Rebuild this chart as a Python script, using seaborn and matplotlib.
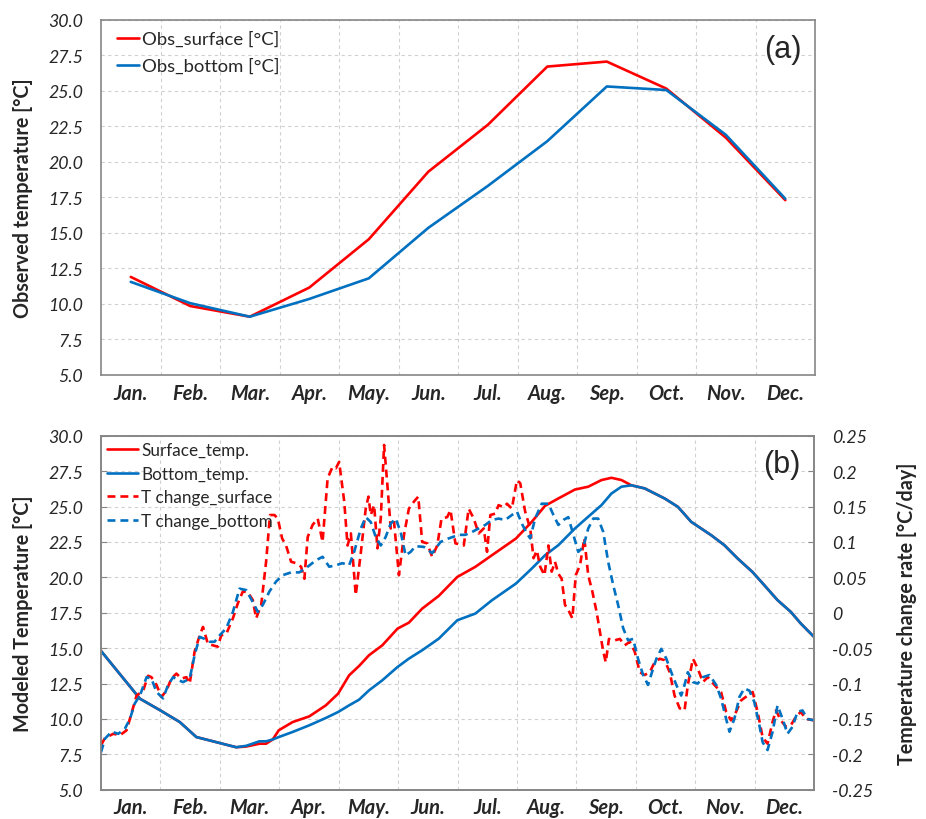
import matplotlib
matplotlib.use("Agg")
import matplotlib.pyplot as plt
import seaborn as sns
import numpy as np
from matplotlib.ticker import FixedLocator

# ---------------- data ----------------
months = ["Jan.", "Feb.", "Mar.", "Apr.", "May.", "Jun.",
          "Jul.", "Aug.", "Sep.", "Oct.", "Nov.", "Dec."]

# (a) monthly observed temperature [°C]
obs_surface = [11.9, 9.85, 9.1, 11.15, 14.55, 19.3, 22.6, 26.7, 27.05, 25.15, 21.7, 17.3]
obs_bottom = [11.55, 10.05, 9.1, 10.35, 11.8, 15.35, 18.3, 21.45, 25.3, 25.05, 21.9, 17.4]

# (b) modelled temperature [°C] against day of year
temp_day = [0, 19.9, 30.4, 40.3, 48.8, 60.7, 69.2, 74.3, 81.1, 84.5, 87.9, 91.0, 98.1,
            106.6, 115.1, 121.4, 127.0, 132.1, 137.2, 144.0, 151.8, 157.6, 164.4, 172.9,
            182.4, 191.6, 200.1, 212.4, 220.5, 227.3, 234.1, 242.6, 249.4, 256.2, 261.3,
            266.4, 271.5, 278.3, 288.5, 295.3, 302.1, 312.3, 319.1, 325.9, 333.4, 339.5,
            346.3, 353.1, 358.2, 365]
surface_temp = [14.8, 11.43, 10.6, 9.78, 8.72, 8.3, 8.0, 8.05, 8.25, 8.25, 8.55, 9.2, 9.78,
                10.18, 10.96, 11.79, 13.08, 13.74, 14.5, 15.2, 16.38, 16.8, 17.79, 18.69,
                20.03, 20.74, 21.56, 22.74, 23.92, 25.05, 25.57, 26.2, 26.4, 26.87, 27.03,
                26.87, 26.5, 26.28, 25.57, 24.98, 23.92, 22.98, 22.27, 21.33, 20.39, 19.45,
                18.39, 17.56, 16.74, 15.79]
bottom_temp = [14.8, 11.43, 10.6, 9.78, 8.72, 8.3, 8.0, 8.1, 8.42, 8.42, 8.55, 8.72, 9.08,
               9.55, 10.07, 10.49, 10.96, 11.36, 12.02, 12.73, 13.67, 14.26, 14.85, 15.67,
               16.97, 17.44, 18.38, 19.56, 20.62, 21.56, 22.27, 23.45, 24.28, 25.1, 25.92,
               26.4, 26.5, 26.28, 25.57, 24.98, 23.92, 22.98, 22.27, 21.33, 20.39, 19.45,
               18.39, 17.56, 16.74, 15.79]

# (b) temperature change rate [°C/day], surface layer
rate_surface_day = [0, 2.0, 6.3, 9.7, 13.1, 18.2, 21.6, 24.1, 25.8, 28.4,
                    30.9, 33.5, 36.0, 38.6, 41.1, 43.7, 45.4, 47.9, 50.5, 52.2,
                    54.7, 57.3, 59.8, 61.5, 64.1, 67.5, 70.0, 72.6, 75.1, 77.7,
                    79.4, 82.0, 84.5, 86.5, 88.8, 90.5, 92.7, 94.7, 97.3, 99.8,
                    102.4, 104.1, 105.8, 108.3, 110.9, 112.0, 113.4, 116.0, 118.5, 120.2,
                    121.9, 124.5, 126.2, 127.9, 130.4, 133.0, 135.5, 136.9, 138.1, 139.8,
                    141.5, 143.2, 144.9, 146.6, 148.3, 150.0, 152.5, 155.1, 157.6, 160.2,
                    162.4, 164.4, 167.0, 169.5, 172.1, 174.3, 177.2, 178.9, 181.4,
                    185.7, 188.2, 190.8, 193.3, 195.9, 197.6, 199.3, 201.8, 203.5, 206.1,
                    207.8, 210.3, 212.9, 214.6, 217.1, 219.7, 221.4, 223.1, 224.8, 227.0,
                    229.0, 230.7, 232.4, 234.1, 235.8, 237.5, 239.2, 241.3, 243.0, 245.2,
                    247.4, 249.4, 251.5, 253.7, 255.4, 257.1, 258.4, 260.0, 263.0, 265.6,
                    268.1, 270.7, 273.2, 275.8, 278.3, 280.9, 283.4, 286.0, 288.5, 291.1,
                    293.6, 296.2, 298.7, 300.4, 303.0, 305.5, 308.1, 310.6, 314.0, 317.4,
                    320.0, 322.5, 325.1, 327.6, 331.0, 333.6, 336.1, 338.7, 341.2, 343.8,
                    345.5, 348.0, 350.6, 353.1, 355.7, 358.2, 360.8, 365]
rate_surface = [-0.187, -0.177, -0.171, -0.173, -0.166, -0.117, -0.11, -0.089, -0.091, -0.102,
                -0.119, -0.11, -0.093, -0.086, -0.093, -0.091, -0.1, -0.055, -0.032, -0.02,
                -0.044, -0.046, -0.048, -0.032, -0.03, -0.008, 0.013, 0.03, 0.029, 0.018,
                -0.008, 0.011, 0.072, 0.138, 0.138, 0.133, 0.105, 0.095, 0.072, 0.07,
                0.065, 0.048, 0.107, 0.124, 0.133, 0.119, 0.1, 0.19, 0.206, 0.204,
                0.213, 0.157, 0.095, 0.112, 0.025, 0.085, 0.147, 0.164, 0.138, 0.152,
                0.091, 0.133, 0.237, 0.18, 0.119, 0.128, 0.053, 0.11, 0.147, 0.157,
                0.164, 0.1, 0.098, 0.079, 0.095, 0.133, 0.135, 0.145, 0.098,
                0.095, 0.147, 0.133, 0.112, 0.119, 0.086, 0.138, 0.14, 0.152, 0.149,
                0.154, 0.147, 0.187, 0.183, 0.143, 0.119, 0.077, 0.088, 0.065, 0.053,
                0.095, 0.058, 0.072, 0.055, 0.048, 0.011, 0.004, -0.008, 0.053, 0.067,
                0.105, 0.053, 0.03, 0.001, -0.027, -0.055, -0.07, -0.037, -0.039, -0.037,
                -0.046, -0.041, -0.055, -0.084, -0.088, -0.084, -0.07, -0.065, -0.067, -0.084,
                -0.117, -0.135, -0.138, -0.102, -0.065, -0.079, -0.098, -0.091, -0.102, -0.112,
                -0.14, -0.152, -0.14, -0.124, -0.117, -0.112, -0.14, -0.176, -0.185, -0.154,
                -0.138, -0.152, -0.161, -0.159, -0.147, -0.14, -0.15, -0.152]

# (b) temperature change rate [°C/day], bottom layer
rate_bottom_day = [0, 2.0, 5.4, 8.8, 12.2, 14.8, 17.3, 19.9, 23.3, 25.8,
                   28.4, 31.8, 34.3, 36.9, 39.4, 42.0, 45.4, 47.9, 50.5, 53.0,
                   55.6, 58.1, 60.7, 64.1, 67.5, 70.9, 74.3, 77.7, 80.3, 82.8,
                   86.2, 89.6, 93.0, 97.3, 101.5, 105.8, 110.0, 113.4, 116.8, 120.2,
                   123.6, 127.0, 129.6, 133.0, 135.5, 138.1, 140.6, 143.2, 145.7, 148.3,
                   150.8, 153.4, 155.9, 158.5, 161.0, 165.3, 169.5, 173.8, 178.0,
                   183.1, 186.5, 189.9, 193.3, 196.7, 200.1, 203.5, 206.9, 210.3, 212.9,
                   215.4, 218.0, 219.7, 222.2, 225.6, 229.0, 231.6, 234.1, 236.7, 239.2,
                   241.8, 244.3, 246.9, 249.4, 252.0, 254.5, 257.1, 259.6, 262.2, 264.7,
                   267.3, 269.8, 272.4, 274.9, 277.5, 280.0, 282.6, 284.3, 286.8, 289.4,
                   291.9, 294.5, 297.0, 298.7, 300.4, 303.0, 305.5, 308.1, 311.5, 314.9,
                   317.4, 320.0, 321.7, 324.2, 326.8, 329.3, 331.9, 334.4, 337.0, 338.7,
                   341.2, 343.8, 346.3, 348.9, 351.4, 354.0, 356.5, 359.1, 361.6, 365]
rate_bottom = [-0.197, -0.178, -0.168, -0.171, -0.164, -0.15, -0.128, -0.117, -0.091, -0.093,
               -0.112, -0.121, -0.102, -0.091, -0.095, -0.098, -0.093, -0.06, -0.034, -0.037,
               -0.041, -0.041, -0.032, -0.022, 0.001, 0.034, 0.032, 0.015, 0.001, 0.011,
               0.03, 0.044, 0.053, 0.057, 0.057, 0.065, 0.074, 0.079, 0.065, 0.067,
               0.07, 0.067, 0.086, 0.119, 0.135, 0.128, 0.107, 0.095, 0.107, 0.126,
               0.133, 0.114, 0.081, 0.086, 0.094, 0.093, 0.084, 0.1, 0.105,
               0.11, 0.11, 0.114, 0.119, 0.124, 0.131, 0.133, 0.131, 0.138, 0.143,
               0.126, 0.112, 0.105, 0.133, 0.154, 0.154, 0.138, 0.124, 0.131, 0.135,
               0.11, 0.086, 0.093, 0.119, 0.133, 0.133, 0.114, 0.072, 0.039, 0.011,
               -0.022, -0.039, -0.037, -0.065, -0.088, -0.102, -0.079, -0.065, -0.051, -0.065,
               -0.084, -0.102, -0.117, -0.102, -0.084, -0.098, -0.1, -0.091, -0.088, -0.102,
               -0.121, -0.15, -0.168, -0.15, -0.119, -0.107, -0.11, -0.126, -0.159, -0.183,
               -0.194, -0.168, -0.131, -0.15, -0.171, -0.161, -0.14, -0.138, -0.15, -0.152]

temp_ticks = [5.0, 7.5, 10.0, 12.5, 15.0, 17.5, 20.0, 22.5, 25.0, 27.5, 30.0]
rate_ticks = [-0.25, -0.2, -0.15, -0.1, -0.05, 0, 0.05, 0.1, 0.15, 0.2, 0.25]
rate_tick_labels = ["-0.25", "-0.2", "-0.15", "-0.1", "-0.05", "0",
                    "0.05", "0.1", "0.15", "0.2", "0.25"]

# ---------------- style ----------------
sns.set_style("white")
plt.rcParams["font.family"] = ["Lato", "DejaVu Sans"]

RED = "#FF0000"
BLUE = "#0070C0"
SPINE = "#868686"
GRID = dict(color="#D0D0D0", linestyle=(0, (3, 3)), linewidth=0.8)
LW = 1.9
DASH = (0, (3.0, 1.9))
TICK_FONT = dict(fontsize=12.8, style="italic")
MONTH_FONT = dict(fontsize=14.5, style="italic", weight="bold")
LABEL_FONT = dict(fontsize=14.2, weight="bold")

fig = plt.figure(figsize=(9.26, 8.2), dpi=100)
ax1 = fig.add_axes([0.1091, 0.5415, 0.7711, 0.4333])
ax2 = fig.add_axes([0.1091, 0.0357, 0.7700, 0.4317])


def frame(ax):
    for s in ax.spines.values():
        s.set_color(SPINE)
        s.set_linewidth(1.2)
        s.set_visible(True)


# ---------------- (a) observed ----------------
x_cat = list(range(len(months)))
sns.lineplot(x=x_cat, y=obs_surface, ax=ax1, color=RED, linewidth=LW,
             label="Obs_surface [\u00b0C]")
sns.lineplot(x=x_cat, y=obs_bottom, ax=ax1, color=BLUE, linewidth=LW,
             label="Obs_bottom [\u00b0C]")
ax1.set_xlim(-0.5, 11.5)
ax1.set_ylim(5, 30)
ax1.xaxis.set_major_locator(FixedLocator(x_cat))
ax1.set_xticklabels(months, **MONTH_FONT)
ax1.xaxis.set_minor_locator(FixedLocator([i + 0.5 for i in range(11)]))
ax1.set_yticks(temp_ticks)
ax1.set_yticklabels([f"{v:.1f}" for v in temp_ticks], **TICK_FONT)
ax1.tick_params(axis="x", which="both", length=0, pad=6)
ax1.tick_params(axis="y", length=0, pad=13)
ax1.grid(False)
ax1.grid(True, which="minor", axis="x", **GRID)
ax1.grid(True, which="major", axis="y", **GRID)
ax1.set_ylabel("Observed temperature [\u00b0C]", **LABEL_FONT)
ax1.yaxis.set_label_coords(-0.095, 0.5)
frame(ax1)
ax1.legend(loc="upper left", bbox_to_anchor=(0.022, 0.968), frameon=False,
           fontsize=13.3, handlelength=1.2, handletextpad=0.15,
           labelspacing=0.58, borderpad=0, borderaxespad=0)
ax1.text(0.955, 0.918, "(a)", transform=ax1.transAxes, ha="center", va="center",
         fontsize=22, family="Liberation Sans")

# ---------------- (b) modelled ----------------
axr = ax2.twinx()
sns.lineplot(x=temp_day, y=surface_temp, ax=ax2, color=RED, linewidth=LW,
             label="Surface_temp.")
sns.lineplot(x=temp_day, y=bottom_temp, ax=ax2, color=BLUE, linewidth=LW,
             label="Bottom_temp.")
sns.lineplot(x=rate_surface_day, y=rate_surface, ax=axr, color=RED, linewidth=LW,
             linestyle=DASH, label="T change_surface")
sns.lineplot(x=rate_bottom_day, y=rate_bottom, ax=axr, color=BLUE, linewidth=LW,
             linestyle=DASH, label="T change_bottom")
for a in (ax2, axr):
    if a.get_legend() is not None:
        a.get_legend().remove()

month_len = 365 / 12
ax2.set_xlim(0, 365)
ax2.set_ylim(5, 30)
axr.set_ylim(-0.25, 0.25)
ax2.xaxis.set_major_locator(FixedLocator([(i + 0.5) * month_len for i in range(12)]))
ax2.set_xticklabels(months, **MONTH_FONT)
ax2.xaxis.set_minor_locator(FixedLocator([i * month_len for i in range(1, 12)]))
ax2.set_yticks(temp_ticks)
ax2.set_yticklabels([f"{v:.1f}" for v in temp_ticks], **TICK_FONT)
axr.set_yticks(rate_ticks)
axr.set_yticklabels(rate_tick_labels, **TICK_FONT)
ax2.tick_params(axis="x", which="both", length=0, pad=5)
ax2.tick_params(axis="y", direction="in", length=4, color=SPINE, pad=13)
axr.tick_params(axis="y", direction="in", length=4, color=SPINE, pad=13)
ax2.grid(False)
axr.grid(False)
ax2.grid(True, which="minor", axis="x", **GRID)
ax2.grid(True, which="major", axis="y", **GRID)
ax2.set_ylabel("Modeled Temperature [\u00b0C]", **LABEL_FONT)
ax2.yaxis.set_label_coords(-0.095, 0.5)
axr.set_ylabel("Temperature change rate [\u00b0C/day]", **LABEL_FONT)
axr.yaxis.set_label_coords(1.117, 0.5)
frame(ax2)
frame(axr)

h1, l1 = ax2.get_legend_handles_labels()
h2, l2 = axr.get_legend_handles_labels()
axr.legend(h1 + h2, l1 + l2, loc="upper left", bbox_to_anchor=(0.008, 0.982),
           frameon=False, fontsize=12.3, handlelength=1.85, handletextpad=0.15,
           labelspacing=0.45, borderpad=0, borderaxespad=0)
ax2.text(0.955, 0.92, "(b)", transform=ax2.transAxes, ha="center", va="center",
         fontsize=22, family="Liberation Sans")

fig.savefig("out.png", dpi=100)
